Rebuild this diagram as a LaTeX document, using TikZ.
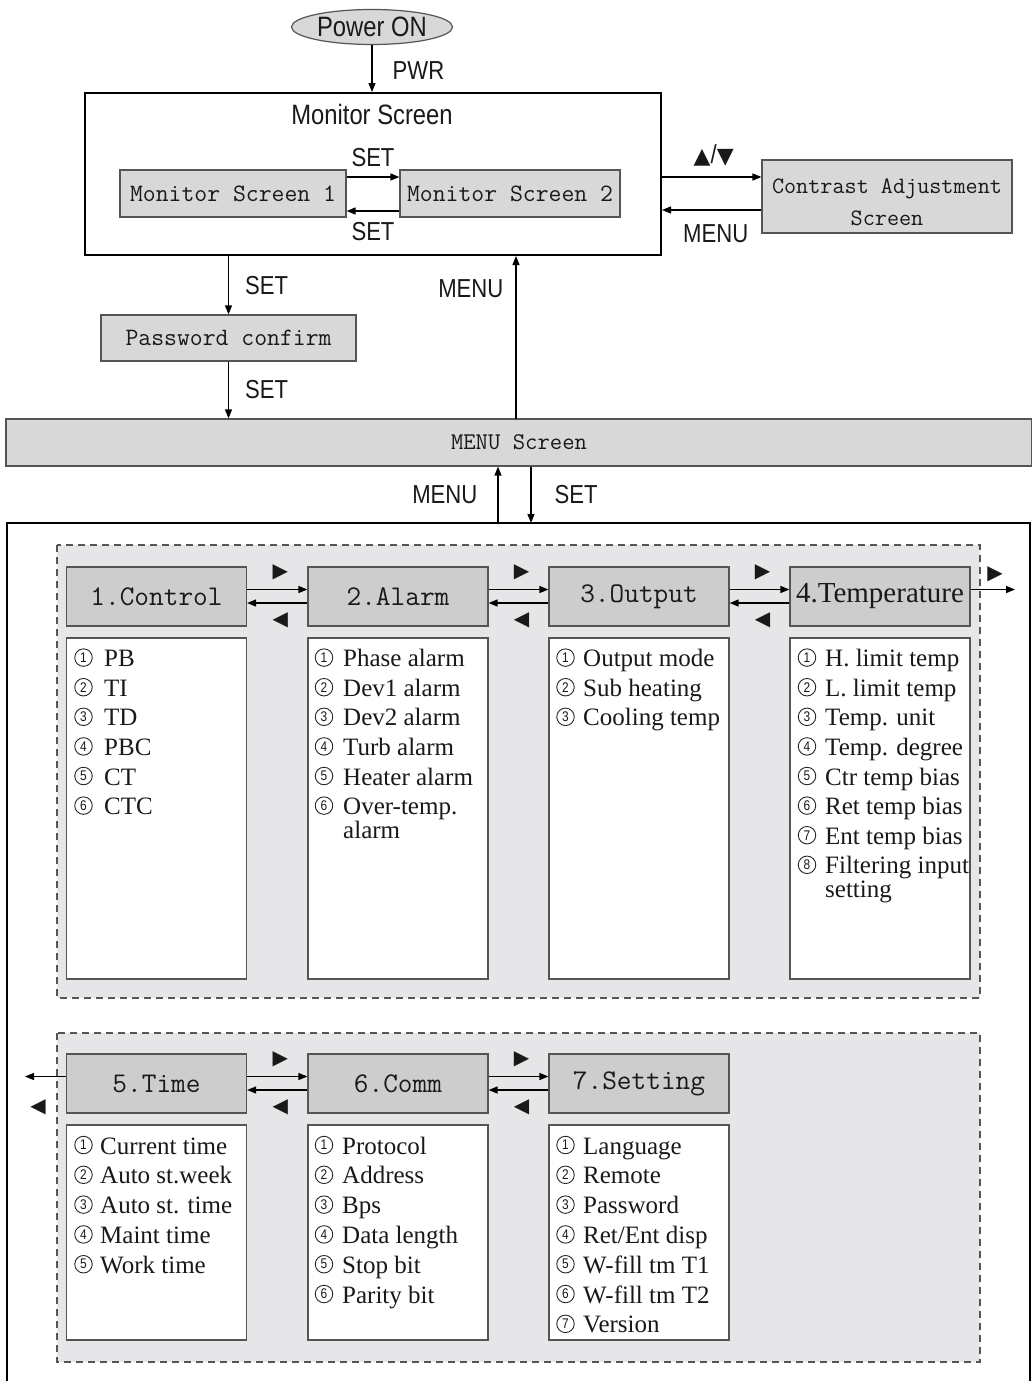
\documentclass[tikz,border=0pt]{standalone}
\usepackage{fontspec}
\usetikzlibrary{arrows.meta,shapes.geometric,positioning,calc}

\newfontfamily\lblfont[FakeStretch=0.85]{Liberation Sans}
\newfontfamily\itemfont{Liberation Serif}
\newfontfamily\symfont{DejaVu Sans}

\definecolor{boxgray}{HTML}{D8D8D8}
\definecolor{headgray}{HTML}{CDCDCD}
\definecolor{panelgray}{HTML}{E6E6E8}
\definecolor{edgegray}{HTML}{555555}

\tikzset{
    arr/.style={line width=1.3pt, -{Triangle[length=9pt,width=7pt]}},
    lbl/.style={font=\lblfont\fontsize{26}{28}\selectfont, inner sep=1pt, text=black!90},
    screen/.style={draw=edgegray, fill=boxgray, line width=1.2pt, inner sep=0pt, text=black!90},
    header/.style={draw=edgegray, fill=headgray, line width=1.2pt, minimum width=180pt, minimum height=59pt, inner sep=0pt, text=black!90, font=\ttfamily\fontsize{28.5}{30}\selectfont},
    itembox/.style={draw=edgegray, fill=white, line width=1.2pt, minimum width=180pt, inner sep=0pt},
    num/.style={circle, draw=black!85, line width=0.9pt, minimum size=17.5pt, inner sep=0pt, text=black!90, font=\lblfont\fontsize{14}{14}\selectfont},
    item/.style={inner sep=0pt, anchor=base west, text=black!90, font=\itemfont\fontsize{25}{26}\selectfont},
    tri/.style={font=\symfont\fontsize{20}{20}\selectfont, inner sep=0pt, text=black!90},
    panel/.style={fill=panelgray, draw=edgegray, line width=1.2pt, dash pattern=on 7pt off 5pt}
}

\begin{document}
\begin{tikzpicture}[x=1pt, y=-1pt]

    \useasboundingbox (0,0) rectangle (1032,1381);
    \fill[white] (0,0) rectangle (1032,1381);

    % top part
    \node[ellipse, draw=edgegray, fill=boxgray, line width=1.2pt, minimum width=161pt, minimum height=35pt, inner sep=0pt, lbl, font=\lblfont\fontsize{28}{30}\selectfont] (power) at (372,27) {Power ON};

    \node[draw, line width=2pt, minimum width=576pt, minimum height=162pt, inner sep=0pt] (monitor) at (373,174) {};
    \node[lbl, font=\lblfont\fontsize{28}{30}\selectfont] (montitle) at (372,114) {Monitor Screen};
    \node[screen, minimum width=226pt, minimum height=47pt, font=\ttfamily\fontsize{25}{27}\selectfont] (ms1) at (233,193.5) {Monitor Screen 1};
    \node[screen, minimum width=220pt, minimum height=47pt, font=\ttfamily\fontsize{25}{27}\selectfont] (ms2) at (510,193.5) {Monitor Screen 2};

    \node[screen, minimum width=250pt, minimum height=73pt] (contrast) at (887,196.5) {};
    \node[align=center, inner sep=0pt, text=black!90, font=\ttfamily\fontsize{23.5}{32}\selectfont] (contrasttext) at (887,202) {Contrast Adjustment\\Screen};
    \node[screen, minimum width=255pt, minimum height=46pt, font=\ttfamily\fontsize{25}{27}\selectfont] (password) at (228.5,338) {Password confirm};
    \node[screen, minimum width=1026pt, minimum height=47pt, font=\ttfamily\fontsize{24}{27}\selectfont] (menu) at (519,442.5) {MENU Screen};

    \draw[arr] (power.south) -- node[lbl, right=19pt, pos=0.55] {PWR} (power.south |- monitor.north);
    \draw[arr] ([yshift=16.5pt]ms1.east) -- node[lbl, above=9pt] {SET} ([yshift=16.5pt]ms2.west);
    \draw[arr] ([yshift=-17.5pt]ms2.west) -- node[lbl, below=10pt] {SET} ([yshift=-17.5pt]ms1.east);

    \coordinate (ca) at ([yshift=19.5pt]contrast.west);
    \coordinate (cb) at ([yshift=-13.5pt]contrast.west);
    \draw[arr] (ca -| monitor.east) -- node[lbl, above=9pt, xshift=2pt] {{\symfont\fontsize{22}{22}\selectfont ▲}/{\symfont\fontsize{22}{22}\selectfont ▼}} (ca);
    \draw[arr] (cb) -- node[lbl, below=13pt, xshift=4pt] {MENU} (cb -| monitor.east);

    \draw[arr] (password.north |- monitor.south) -- node[lbl, right=15pt] {SET} (password.north);
    \draw[arr] (password.south) -- node[lbl, right=15pt] {SET} (password.south |- menu.north);
    \coordinate (mu) at (516,419);
    \draw[arr] (mu) -- node[lbl, left=11pt, pos=0.8] {MENU} (mu |- monitor.south);

    % frame of the menu tree
    \draw[line width=1.3pt] (7,1381) -- (7,523) -- (1030,523) -- (1030,1381);
    \coordinate (m1) at (498,523);
    \coordinate (s1) at (531,523);
    \draw[arr] (m1) -- node[lbl, left=19pt] {MENU} (m1 |- menu.south);
    \draw[arr] (s1 |- menu.south) -- node[lbl, right=22pt] {SET} (s1);

    \draw[panel] (57,545) rectangle (980,998);
    \draw[panel] (57,1033) rectangle (980,1362);

    % headers
    \node[header] (c1) at (156.5,596.5) {1.Control};
    \node[header] (c2) at (398,596.5) {2.Alarm};
    \node[header] (c3) at (639,596.5) {3.Output};
    \node[header, font=\itemfont\fontsize{29}{30}\selectfont] (c4) at (880,596.5) {4.Temperature};
    \node[header] (c5) at (156.5,1083.5) {5.Time};
    \node[header] (c6) at (398,1083.5) {6.Comm};
    \node[header] (c7) at (639,1083.5) {7.Setting};

    \node[itembox, minimum height=341pt] (k1) at (156.5,808.5) {};
    \node[itembox, minimum height=341pt] (k2) at (398,808.5) {};
    \node[itembox, minimum height=341pt] (k3) at (639,808.5) {};
    \node[itembox, minimum height=341pt] (k4) at (880,808.5) {};
    \node[itembox, minimum height=215pt] (k5) at (156.5,1232.5) {};
    \node[itembox, minimum height=215pt] (k6) at (398,1232.5) {};
    \node[itembox, minimum height=215pt] (k7) at (639,1232.5) {};

    \foreach \a/\b in {c1/c2, c2/c3, c3/c4, c5/c6, c6/c7}
    {
        \draw[arr] ([yshift=7pt]\a.east) -- ([yshift=7pt]\b.west);
        \draw[arr] ([yshift=-6.5pt]\b.west) -- ([yshift=-6.5pt]\a.east);
        \node[tri] at ($(\a.east)!0.5!(\b.west)+(3,-24)$) {▶};
        \node[tri] at ($(\a.east)!0.5!(\b.west)+(3,24)$) {◀};
    }
    \coordinate (outR) at (1015,589.5);
    \coordinate (outL) at (25,1076.5);
    \draw[arr] ([yshift=7pt]c4.east) -- (outR);
    \node[tri] at (995,574) {▶};
    \draw[arr] ([yshift=7pt]c5.west) -- (outL);
    \node[tri] at (38,1107) {◀};

    % item lists
    \foreach \t [count=\i] in {PB, TI, TD, PBC, CT, CTC}
    {
        \node[num] (n1\i) at (83.5,{628+29.6*\i}) {\i};
        \node[item] (t1\i) at (104,{637+29.6*\i}) {\t};
    }
    \foreach \t [count=\i] in {Phase alarm, Dev1 alarm, Dev2 alarm, Turb alarm, Heater alarm, Over-temp.}
    {
        \node[num] (n2\i) at (324,{628+29.6*\i}) {\i};
        \node[item] (t2\i) at (343,{637+29.6*\i}) {\t};
    }
    \node[item] at ([yshift=-24pt]t26.base west) {alarm};
    \foreach \t [count=\i] in {Output mode, Sub heating, Cooling temp}
    {
        \node[num] (n3\i) at (565.5,{628+29.6*\i}) {\i};
        \node[item] (t3\i) at (583,{637+29.6*\i}) {\t};
    }
    \foreach \t [count=\i] in {H. limit temp, L. limit temp, Temp. unit, Temp. degree, Ctr temp bias, Ret temp bias, Ent temp bias, Filtering input}
    {
        \node[num] (n4\i) at (807,{628+29.6*\i}) {\i};
        \node[item] (t4\i) at (825,{637+29.6*\i}) {\t};
    }
    \node[item] at ([yshift=-24pt]t48.base west) {setting};
    \foreach \t [count=\i] in {Current time, Auto st.week, Auto st. time, Maint time, Work time}
    {
        \node[num] (n5\i) at (83.5,{1115.2+29.8*\i}) {\i};
        \node[item] (t5\i) at (100,{1124.2+29.8*\i}) {\t};
    }
    \foreach \t [count=\i] in {Protocol, Address, Bps, Data length, Stop bit, Parity bit}
    {
        \node[num] (n6\i) at (324,{1115.2+29.8*\i}) {\i};
        \node[item] (t6\i) at (342,{1124.2+29.8*\i}) {\t};
    }
    \foreach \t [count=\i] in {Language, Remote, Password, Ret/Ent disp, W-fill tm T1, W-fill tm T2, Version}
    {
        \node[num] (n7\i) at (565.5,{1115.2+29.8*\i}) {\i};
        \node[item] (t7\i) at (583,{1124.2+29.8*\i}) {\t};
    }

\end{tikzpicture}
\end{document}
